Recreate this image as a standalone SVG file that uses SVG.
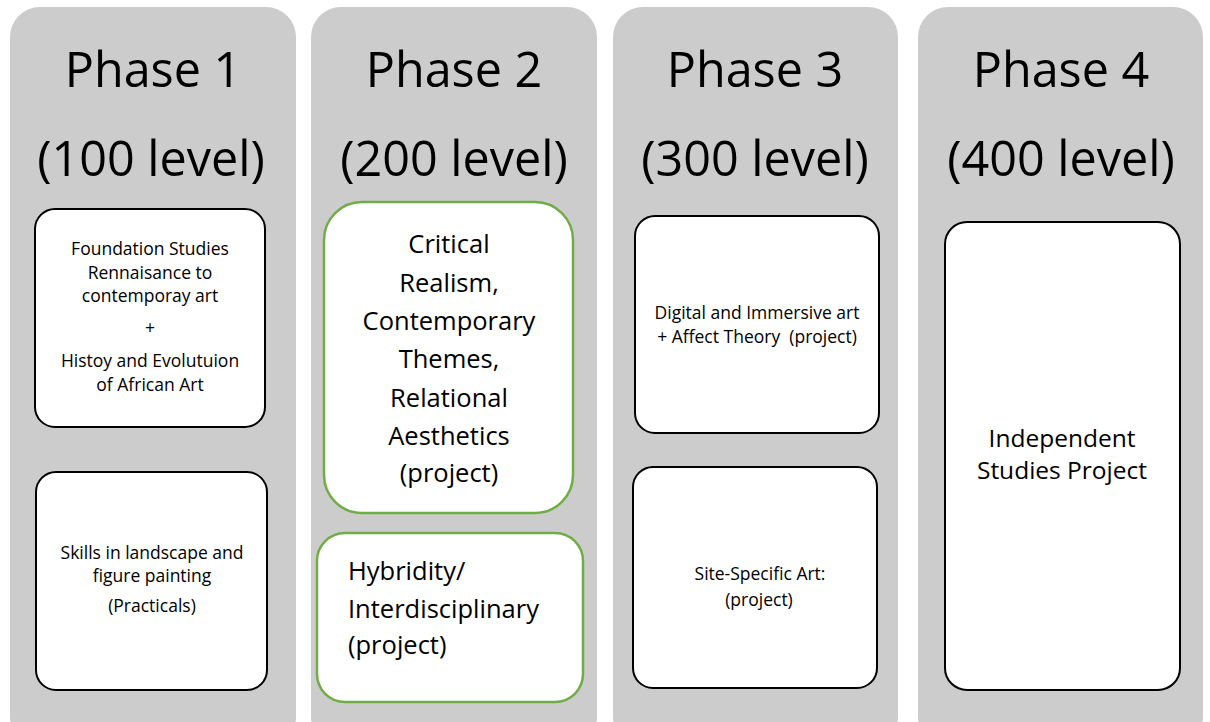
<svg xmlns="http://www.w3.org/2000/svg" width="1210" height="722" viewBox="0 0 1210 722">
<style>
.col{fill:#CCCCCC;}
.box{fill:#FFFFFF;stroke:#000000;stroke-width:2;}
.gbox{fill:#FFFFFF;stroke:#70AD47;stroke-width:2.5;}
text{font-family:"Open Sans","Liberation Sans",sans-serif;fill:#000000;}
.h{font-size:48.5px;text-anchor:middle;}
.s{font-size:17.5px;text-anchor:middle;}
.m{font-size:25.5px;text-anchor:middle;}
.ml{font-size:25.5px;text-anchor:start;}
.i{font-size:24.5px;text-anchor:middle;}
</style>
<rect width="1210" height="722" fill="#FFFFFF"/>
<g id="phase1">
<rect class="col" x="10" y="7" width="286" height="740" rx="30"/>
<text class="h" x="153" y="87">Phase 1</text>
<text class="h" x="151" y="176">(100 level)</text>
</g>
<g id="phase2">
<rect class="col" x="311" y="7" width="286" height="740" rx="30"/>
<text class="h" x="454" y="87">Phase 2</text>
<text class="h" x="454" y="176">(200 level)</text>
</g>
<g id="phase3">
<rect class="col" x="613" y="7" width="285" height="740" rx="30"/>
<text class="h" x="755" y="87">Phase 3</text>
<text class="h" x="755" y="176">(300 level)</text>
</g>
<g id="phase4">
<rect class="col" x="918" y="7" width="285" height="740" rx="30"/>
<text class="h" x="1061" y="87">Phase 4</text>
<text class="h" x="1061" y="176">(400 level)</text>
</g>
<g id="foundation">
<rect class="box" x="35" y="209" width="230" height="218" rx="20"/>
<text class="s" x="150" y="255">Foundation Studies</text>
<text class="s" x="150" y="278.5">Rennaisance to</text>
<text class="s" x="150" y="302">contemporay art</text>
<text class="s" x="150" y="334">+</text>
<text class="s" x="150" y="367">Histoy and Evolutuion</text>
<text class="s" x="150" y="390.5">of African Art</text>
</g>
<g id="skills">
<rect class="box" x="36" y="472" width="231" height="218" rx="20"/>
<text class="s" x="152" y="558.5">Skills in landscape and</text>
<text class="s" x="152" y="582">figure painting</text>
<text class="s" x="152" y="612">(Practicals)</text>
</g>
<g id="critical">
<rect class="gbox" x="324" y="202" width="249" height="311" rx="38"/>
<text class="m" x="449" y="253">Critical</text>
<text class="m" x="449" y="292">Realism,</text>
<text class="m" x="449" y="330">Contemporary</text>
<text class="m" x="449" y="368">Themes,</text>
<text class="m" x="449" y="407">Relational</text>
<text class="m" x="449" y="445">Aesthetics</text>
<text class="m" x="449" y="482">(project)</text>
</g>
<g id="hybridity">
<rect class="gbox" x="317" y="533" width="266" height="169" rx="28"/>
<text class="ml" x="348" y="580">Hybridity/</text>
<text class="ml" x="348" y="618">Interdisciplinary</text>
<text class="ml" x="348" y="654">(project)</text>
</g>
<g id="digital">
<rect class="box" x="635" y="216" width="244" height="217" rx="20"/>
<text class="s" x="757" y="319">Digital and Immersive art</text>
<text class="s" x="757" y="342.5" xml:space="preserve">+ Affect Theory  (project)</text>
</g>
<g id="sitespecific">
<rect class="box" x="633" y="467" width="244" height="221" rx="20"/>
<text class="s" x="760" y="580">Site-Specific Art:</text>
<text class="s" x="759" y="606">(project)</text>
</g>
<g id="independent">
<rect class="box" x="945" y="222" width="235" height="468" rx="22"/>
<text class="i" x="1062" y="447">Independent</text>
<text class="i" x="1062" y="479">Studies Project</text>
</g>
<g id="connectors"></g>
</svg>
